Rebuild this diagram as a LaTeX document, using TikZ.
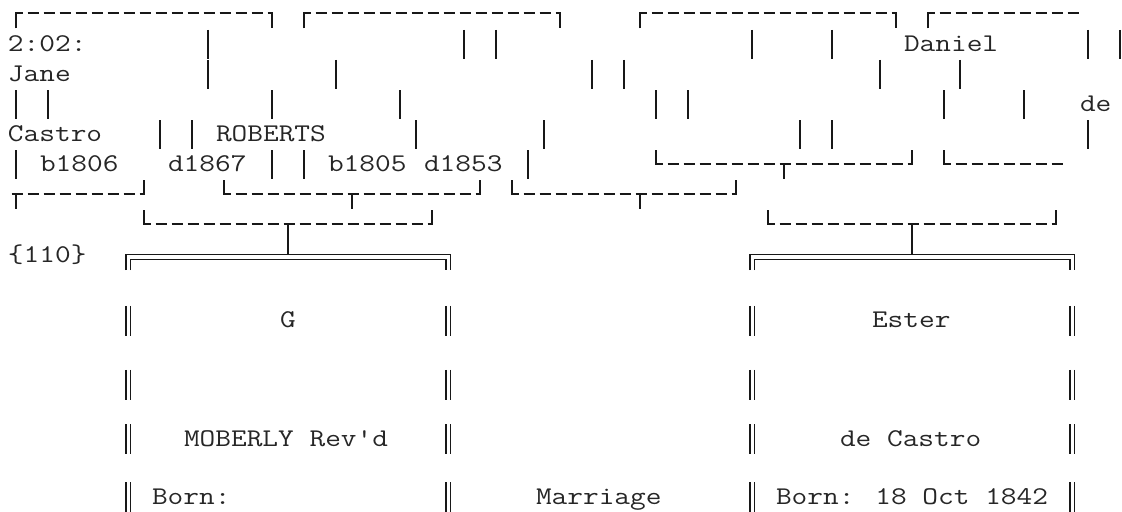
\documentclass[tikz,border=0pt]{standalone}
\usepackage{graphicx}
\definecolor{ink}{HTML}{181818}
\definecolor{txt}{HTML}{262626}
\newcommand\Tx[1]{\scalebox{1.1951}[1]{\fontsize{12.75pt}{12.75pt}\selectfont\ttfamily #1}}
\tikzset{
  ln/.style={draw=ink, line width=1.1pt, line cap=butt, line join=miter},
  dbl/.style={draw=ink, line width=0.8pt, line cap=butt, line join=miter},
  tx/.style={anchor=base west, inner sep=0pt, outer sep=0pt, text=txt}
}
% grid: column c centre x = 16+16c ; row k centre y = 30.12(k-0.5)-1
\newcommand\tT[4]{\node[tx] (#1) at ({8+16*#2},{30.12*(#3-0.5)+6}) {\Tx{#4}};}
\newcommand\tY[4]{\node[tx] (#1) at ({8+16*#2},{#3+7}) {\Tx{#4}};}
\newcommand\bV[2]{\draw[ln] ({16+16*#1},{30.12*(#2-0.5)-15.4}) -- ({16+16*#1},{30.12*(#2-0.5)+13.4});}
\newcommand\bD[3]{\foreach \c in {#1,...,#2}{\draw[ln] ({11.5+16*\c},{30.12*(#3-0.5)-2}) -- ({23.3+16*\c},{30.12*(#3-0.5)-2});}}
\newcommand\bTL[2]{\draw[ln] ({16+16*#1},{30.12*(#2-0.5)+13.4}) -- ({16+16*#1},{30.12*(#2-0.5)-2}) -- ({23.3+16*#1},{30.12*(#2-0.5)-2});}
\newcommand\bTR[2]{\draw[ln] ({11.5+16*#1},{30.12*(#2-0.5)-2}) -- ({16+16*#1},{30.12*(#2-0.5)-2}) -- ({16+16*#1},{30.12*(#2-0.5)+13.4});}
\newcommand\bBL[2]{\draw[ln] ({16+16*#1},{30.12*(#2-0.5)-15.4}) -- ({16+16*#1},{30.12*(#2-0.5)-2}) -- ({23.3+16*#1},{30.12*(#2-0.5)-2});}
\newcommand\bBR[2]{\draw[ln] ({11.5+16*#1},{30.12*(#2-0.5)-2}) -- ({16+16*#1},{30.12*(#2-0.5)-2}) -- ({16+16*#1},{30.12*(#2-0.5)-15.4});}
\newcommand\bTee[3]{\draw[ln] ({11.5+16*#1},{30.12*(#2-0.5)-2}) -- ({23.3+16*#1},{30.12*(#2-0.5)-2});
  \draw[ln] ({16+16*#1},{30.12*(#2-0.5)-2}) -- ({16+16*#1},{#3});}
% double bar centred at column #1, row centre y #2
\newcommand\bDV[2]{\draw[dbl] ({13.7+16*#1},{#2-15}) -- ({13.7+16*#1},{#2+15});
  \draw[dbl] ({18.3+16*#1},{#2-15}) -- ({18.3+16*#1},{#2+15});}
\newcommand\bBox[2]{%
  \draw[dbl] ({13.7+16*#1},{30.12*8.5+14}) |- ({18.3+16*#2},254.5) -- ({18.3+16*#2},{30.12*8.5+14});
  \draw[dbl] ({18.3+16*#1},{30.12*8.5+14}) |- ({13.7+16*#2},259.7) -- ({13.7+16*#2},{30.12*8.5+14});}
\begin{document}
\begin{tikzpicture}[x=0.5pt,y=-0.5pt]
\useasboundingbox (0,0) rectangle (1122,512);
% ---- row 1
\bTL{0}{1}\bD{1}{15}{1}\bTR{16}{1}
\bTL{18}{1}\bD{19}{33}{1}\bTR{34}{1}
\bTL{39}{1}\bD{40}{54}{1}\bTR{55}{1}
\bTL{57}{1}\bD{58}{66}{1}
% ---- row 2
\tT{time}{0}{2}{2:02:}
\foreach \c in {12,28,30,46,51,67,69}{\bV{\c}{2}}
\tT{daniel}{56}{2}{Daniel}
% ---- row 3
\tT{jane}{0}{3}{Jane}
\foreach \c in {12,20,36,38,54,59}{\bV{\c}{3}}
% ---- row 4
\foreach \c in {0,2,16,24,40,42,58,63}{\bV{\c}{4}}
\tT{de}{67}{4}{de}
% ---- row 5
\tT{castro}{0}{5}{Castro}
\tT{roberts}{13}{5}{ROBERTS}
\foreach \c in {9,11,25,33,49,51,67}{\bV{\c}{5}}
% ---- row 6
\foreach \c in {0,16,18,32}{\bV{\c}{6}}
\tT{bA}{2}{6}{b1806}
\tT{dA}{10}{6}{d1867}
\tT{bB}{20}{6}{b1805}
\tT{dB}{26}{6}{d1853}
\bBL{40}{6}\bD{41}{47}{6}\bTee{48}{6}{{30.12*5.5+13.4}}\bD{49}{55}{6}\bBR{56}{6}
\bBL{58}{6}\bD{59}{65}{6}
% ---- row 7
\bTee{0}{7}{{30.12*6.5+13.4}}\bD{1}{7}{7}\bBR{8}{7}
\bBL{13}{7}\bD{14}{20}{7}\bTee{21}{7}{{30.12*6.5+13.4}}\bD{22}{28}{7}\bBR{29}{7}
\bBL{31}{7}\bD{32}{38}{7}\bTee{39}{7}{{30.12*6.5+13.4}}\bD{40}{44}{7}\bBR{45}{7}
% ---- row 8
\bBL{8}{8}\bD{9}{16}{8}\bTee{17}{8}{254.5}\bD{18}{25}{8}\bBR{26}{8}
\bBL{47}{8}\bD{48}{55}{8}\bTee{56}{8}{254.5}\bD{57}{64}{8}\bBR{65}{8}
% ---- row 9
\tT{ref}{0}{9}{\{110\}}
\bBox{7}{27}
\bBox{46}{66}
% ---- box rows
\foreach \y in {321,385,439,497}{\foreach \c in {7,27,46,66}{\bDV{\c}{\y}}}
\tY{g}{17}{321}{G}
\tY{ester}{54}{321}{Ester}
\tY{moberly}{11}{439}{MOBERLY Rev\textquotesingle d}
\tY{decastro}{52}{439}{de Castro}
\tY{bornL}{9}{497}{Born:}
\tY{marriage}{33}{497}{Marriage}
\tY{bornR}{48}{497}{Born: 18 Oct 1842}
\end{tikzpicture}
\end{document}
